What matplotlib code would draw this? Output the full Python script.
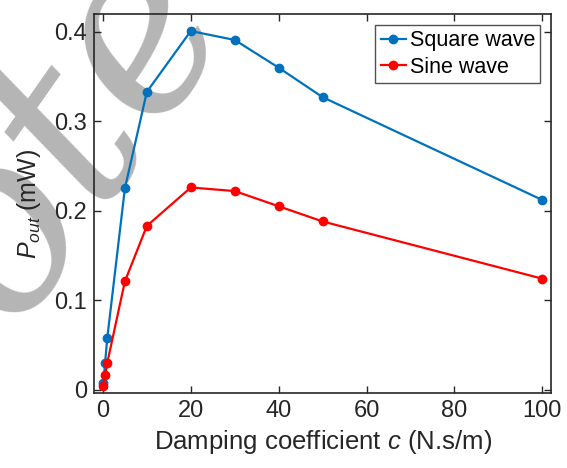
import matplotlib
matplotlib.use("Agg")
import matplotlib.pyplot as plt

c_vals = [0.1, 0.5, 1, 5, 10, 20, 30, 40, 50, 100]
square_wave = [0.007, 0.030, 0.058, 0.225, 0.333, 0.401, 0.391, 0.360, 0.327, 0.212]
sine_wave = [0.004, 0.016, 0.030, 0.121, 0.183, 0.226, 0.222, 0.205, 0.188, 0.124]
xticks = [0, 20, 40, 60, 80, 100]
yticks = [0, 0.1, 0.2, 0.3, 0.4]
ytick_labels = ["0", "0.1", "0.2", "0.3", "0.4"]

plt.rcParams['font.family'] = ['Liberation Sans', 'DejaVu Sans']
plt.rcParams['mathtext.fontset'] = 'custom'
plt.rcParams['mathtext.it'] = 'Liberation Sans:italic'
plt.rcParams['mathtext.rm'] = 'Liberation Sans'

fig = plt.figure(figsize=(5.67, 4.68), dpi=100)
ax = fig.add_axes([0.166, 0.160, 0.806, 0.810])
ax.patch.set_alpha(0)

# watermark (behind everything)
fig.text(0.12, 0.72, "ote", rotation=55, fontsize=175, family='DejaVu Serif',
         style='italic', color='#b5b5b5', ha='center', va='center', zorder=-5)

ax.plot(c_vals, square_wave, '-o', color='#0072BD', lw=1.6, ms=6, label='Square wave', zorder=3)
ax.plot(c_vals, sine_wave, '-o', color='#FF0000', lw=1.6, ms=6, label='Sine wave', zorder=3)

ax.set_xlim(-2, 102)
ax.set_ylim(-0.004, 0.42)
ax.set_xticks(xticks)
ax.set_yticks(yticks)
ax.set_yticklabels(ytick_labels)
ax.tick_params(direction='in', top=True, right=True, length=5, width=1,
               labelsize=17, colors='#262626', pad=5)
for s in ax.spines.values():
    s.set_color('#262626')
    s.set_linewidth(1.2)

ax.set_xlabel(r'Damping coefficient $c$ (N.s/m)', fontsize=18.5, color='#262626', labelpad=4)
ax.set_ylabel(r'$P_{out}$ (mW)', fontsize=18, color='#262626', labelpad=8)

leg = ax.legend(loc='upper right', fontsize=15.5, frameon=True, fancybox=False,
                edgecolor='#262626', handlelength=1.2, handletextpad=0.15,
                borderpad=0.25, labelspacing=0.25, borderaxespad=0.5)
leg.get_frame().set_linewidth(1.0)

fig.savefig('out.png', dpi=100)
